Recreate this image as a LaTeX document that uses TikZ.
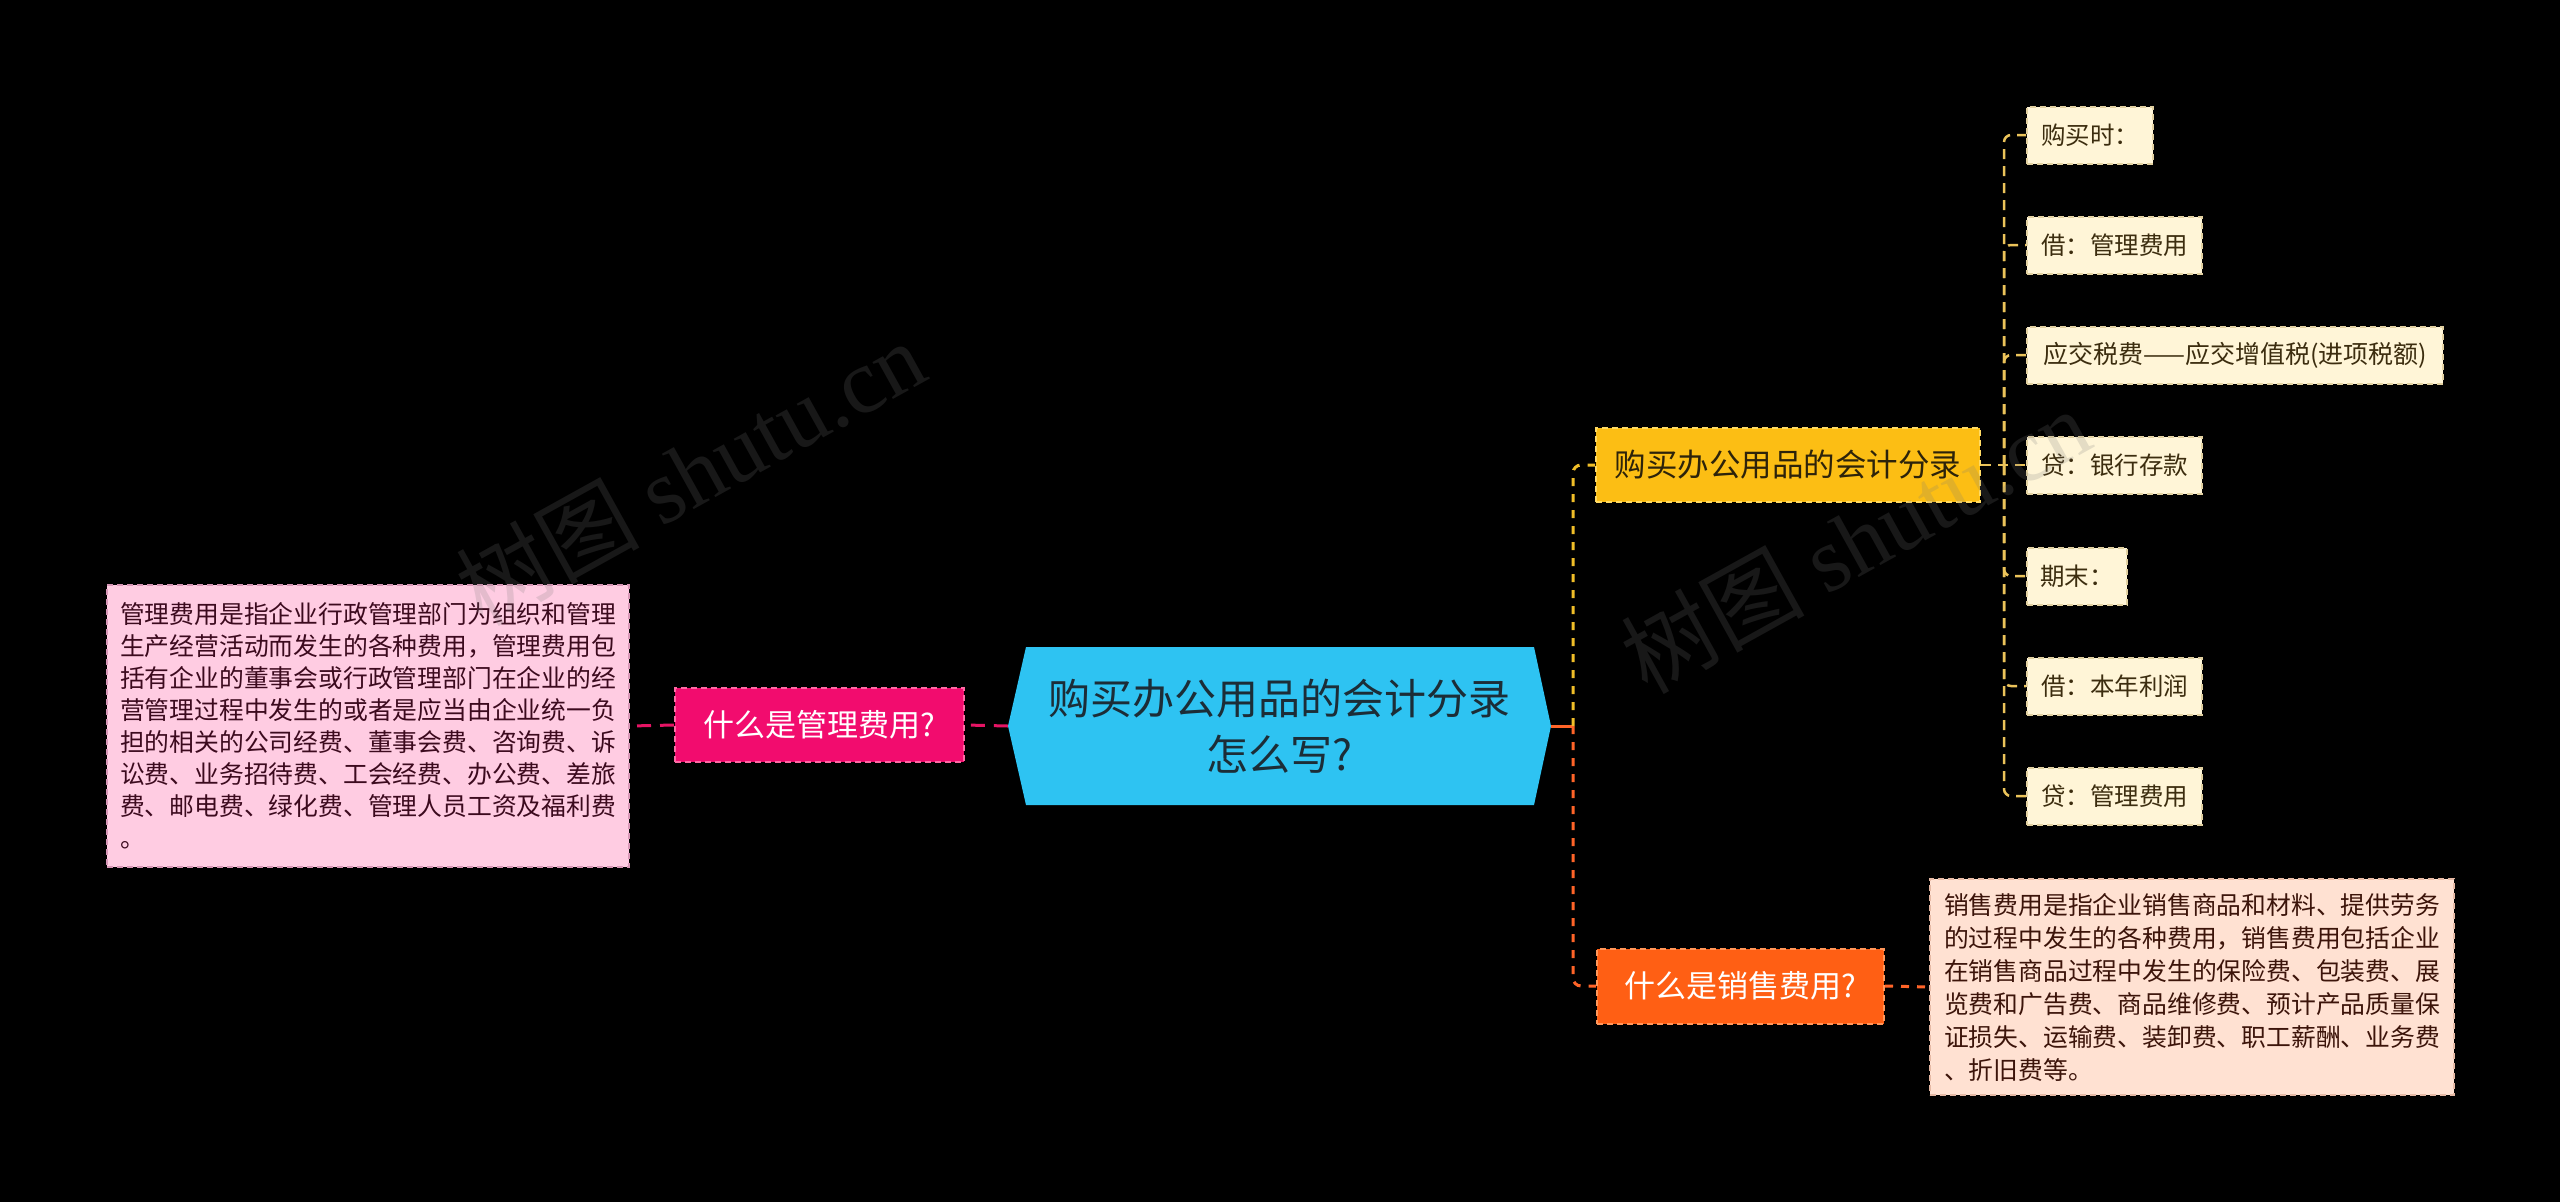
\documentclass[tikz,border=0pt]{standalone}
\usepackage{fontspec}
\setmainfont{Noto Sans CJK SC}
\newfontfamily\wmfont{Liberation Serif}
\usetikzlibrary{calc}
\definecolor{rootfill}{RGB}{46,195,242}
\definecolor{roottxt}{RGB}{28,45,55}
\definecolor{pinkfill}{RGB}{242,12,110}
\definecolor{pinkedge}{RGB}{255,105,165}
\definecolor{pinkdescfill}{RGB}{255,204,226}
\definecolor{pinkdescedge}{RGB}{215,150,182}
\definecolor{pinkdesctxt}{RGB}{60,10,30}
\definecolor{yelfill}{RGB}{252,190,20}
\definecolor{yeledge}{RGB}{255,218,100}
\definecolor{yeltxt}{RGB}{45,35,10}
\definecolor{leaffill}{RGB}{255,245,215}
\definecolor{leafedge}{RGB}{225,208,160}
\definecolor{leaftxt}{RGB}{60,45,15}
\definecolor{orfill}{RGB}{255,95,20}
\definecolor{oredge}{RGB}{255,150,90}
\definecolor{ordescfill}{RGB}{255,225,210}
\definecolor{ordescedge}{RGB}{230,185,165}
\definecolor{ordesctxt}{RGB}{60,20,10}
\definecolor{linkpink}{RGB}{230,20,100}
\definecolor{linkorange}{RGB}{255,100,40}
\definecolor{linkyellow}{RGB}{240,190,40}
\definecolor{linkleaf}{RGB}{235,195,90}
\definecolor{wmgray}{RGB}{120,120,120}
\begin{document}
\begin{tikzpicture}[x=1pt,y=-1pt,
  dashbox/.style={line width=2pt, dash pattern=on 6pt off 4pt, inner sep=0pt, align=center},
  labelbox/.style={dashbox, minimum height=74pt, font=\fontsize{31}{36}\selectfont},
  leafbox/.style={dashbox, anchor=west, fill=leaffill, draw=leafedge, text=leaftxt,
     minimum height=57pt, font=\fontsize{24.5}{30}\selectfont},
  descbox/.style={dashbox, align=left},
  pinklink/.style={draw=linkpink, line width=3pt, dash pattern=on 14pt off 9pt},
  orlink/.style={draw=linkorange, line width=3pt, dash pattern=on 8pt off 8pt},
  yellink/.style={draw=linkyellow, line width=3pt, dash pattern=on 8pt off 8pt},
  leaflink/.style={draw=linkleaf, line width=2.5pt, dash pattern=on 10pt off 7pt},
  wm/.style={text=wmgray, text opacity=0.2, rotate=29, inner sep=0pt}
]
\useasboundingbox (0,0) rectangle (2560,1202);
\fill[black] (0,0) rectangle (2560,1202);

% central hexagon
\fill[rootfill] (1008,726) -- (1026,647) -- (1534,647) -- (1551,726) -- (1534,805) -- (1026,805) -- cycle;
\node[inner sep=0pt, minimum width=543pt, minimum height=158pt, align=center, text=roottxt,
      font=\fontsize{42}{56}\selectfont] (root) at (1279.5,726) {购买办公用品的会计分录\\怎么写?};

% left branch
\node[labelbox, fill=pinkfill, draw=pinkedge, text=white, minimum width=289pt] (pl) at (819.5,725) {什么是管理费用?};
\node[descbox, fill=pinkdescfill, draw=pinkdescedge, text=pinkdesctxt, minimum width=522pt, minimum height=282pt,
      font=\fontsize{24.8}{32}\selectfont] (pd) at (368,726) {管理费用是指企业行政管理部门为组织和管理\\生产经营活动而发生的各种费用，管理费用包\\括有企业的董事会或行政管理部门在企业的经\\营管理过程中发生的或者是应当由企业统一负\\担的相关的公司经费、董事会费、咨询费、诉\\讼费、业务招待费、工会经费、办公费、差旅\\费、邮电费、绿化费、管理人员工资及福利费\\。};

% right branch
\node[labelbox, fill=yelfill, draw=yeledge, text=yeltxt, minimum width=384pt, font=\fontsize{31.5}{36}\selectfont] (yl) at (1788,465) {购买办公用品的会计分录};
\node[labelbox, fill=orfill, draw=oredge, text=white, minimum width=287pt, minimum height=75pt] (ol) at (1740.5,986) {什么是销售费用?};
\node[descbox, fill=ordescfill, draw=ordescedge, text=ordesctxt, minimum width=524pt, minimum height=216pt,
      font=\fontsize{24.8}{33}\selectfont] (od) at (2192,987) {销售费用是指企业销售商品和材料、提供劳务\\的过程中发生的各种费用，销售费用包括企业\\在销售商品过程中发生的保险费、包装费、展\\览费和广告费、商品维修费、预计产品质量保\\证损失、运输费、装卸费、职工薪酬、业务费\\、折旧费等。};

% leaves
\node[leafbox, minimum width=126pt] (l1) at (2026,135) {购买时：};
\node[leafbox, minimum width=175pt] (l2) at (2026,245) {借：管理费用};
\node[leafbox, minimum width=416pt, font=\fontsize{25}{30}\selectfont] (l3) at (2026,355) {应交税费——应交增值税(进项税额)};
\node[leafbox, minimum width=175pt] (l4) at (2026,465) {贷：银行存款};
\node[leafbox, minimum width=100pt] (l5) at (2026,576) {期末：};
\node[leafbox, minimum width=175pt] (l6) at (2026,686) {借：本年利润};
\node[leafbox, minimum width=175pt] (l7) at (2026,796) {贷：管理费用};

% connectors
\coordinate (trunk) at (1573,726);
\coordinate (lbus) at (2004,465);
\draw[pinklink] (root.west) -- (pl.east);
\draw[pinklink] (pl.west) -- (pd.east);
\draw[linkorange, line width=3pt] (root.east) -- (trunk);
\draw[yellink, rounded corners=8pt] (trunk) |- (yl.west);
\draw[orlink, rounded corners=8pt] (trunk) |- (ol.west);
\draw[orlink] (ol.east) -- (od.west);
\draw[leaflink] (yl.east) -- (l4.west);
\foreach \k in {1,2,3,5,6,7} {
  \draw[leaflink, rounded corners=7pt] (lbus) |- (l\k.west);
}

% watermarks
\node[wm] (wm1) at (690,472) {\fontsize{92}{92}\selectfont 树图 {\wmfont shutu.cn}};
\node[wm] (wm2) at (1855,540) {\fontsize{92}{92}\selectfont 树图 {\wmfont shutu.cn}};
\end{tikzpicture}
\end{document}
